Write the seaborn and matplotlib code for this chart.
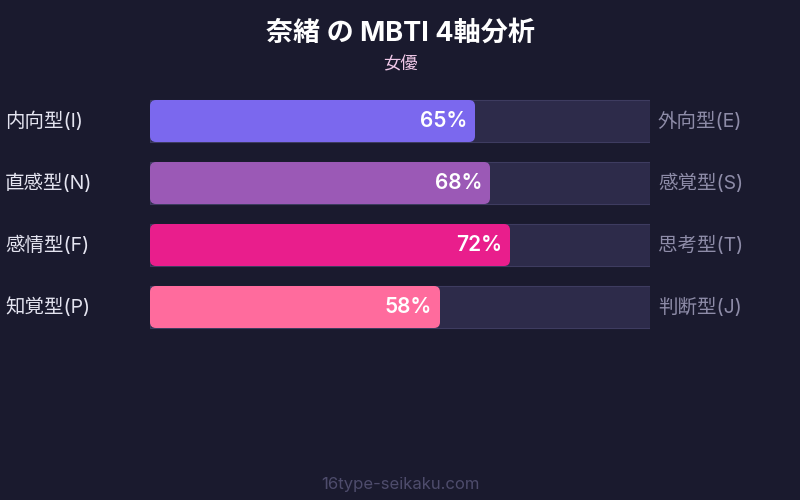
import pandas as pd
import matplotlib
matplotlib.use('Agg')
import matplotlib.pyplot as plt
import seaborn as sns
from matplotlib.patches import FancyBboxPatch

# chart data
left_labels = ['内向型(I)', '直感型(N)', '感情型(F)', '知覚型(P)']
right_labels = ['外向型(E)', '感覚型(S)', '思考型(T)', '判断型(J)']
values = [65, 68, 72, 58]
bar_colors = ['#7b68ee', '#9b59b6', '#e91e8c', '#ff6b9d']
title = '奈緒 の MBTI 4軸分析'
subtitle = '女優'
footer = '16type-seikaku.com'

bg = '#1a1a2e'
track = '#2d2b4a'

sns.set_theme(style='white')
plt.rcParams['font.family'] = ['Inter', 'Noto Sans CJK JP', 'DejaVu Sans']

df = pd.DataFrame({'axis': left_labels, 'value': values, 'full': [100] * len(values)})

fig = plt.figure(figsize=(8, 5), dpi=100, facecolor=bg)
# axes spans the bar track area (x 150-650 px, 4 rows of 62 px)
ax = fig.add_axes([150 / 800, 1 - 338 / 500, 500 / 800, 248 / 500])
ax.set_facecolor(bg)

bw = 42 / 62
sns.barplot(data=df, x='full', y='axis', color=track, width=bw, ax=ax, saturation=1,
            edgecolor='#3e3c60', linewidth=0.8, orient='h')
n_track = len(ax.patches)
sns.barplot(data=df, x='value', y='axis', hue='axis', palette=bar_colors, width=bw,
            ax=ax, legend=False, orient='h', linewidth=0, saturation=1)

# replace the value bars with rounded ones
rad = 1.2  # ~6 px in x units
aspect = (62 / 1) / (500 / 100)  # px per y unit / px per x unit
for p in list(ax.patches[n_track:]):
    x, y = p.get_x(), p.get_y()
    w, h = p.get_width(), p.get_height()
    fc = p.get_facecolor()
    p.remove()
    ax.add_patch(FancyBboxPatch((x, y), w, h,
                                boxstyle=f'round,pad=0,rounding_size={rad}',
                                mutation_aspect=1 / aspect, facecolor=fc,
                                edgecolor='none', zorder=3))
    ax.text(x + w - 1.6, y + h / 2, f'{int(round(w))}%', ha='right', va='center',
            color='white', fontsize=15, fontweight='semibold', zorder=4)

ax.set_xlim(0, 100)
ax.set_ylim(3.5, -0.5)
ax.set_xlabel('')
ax.set_ylabel('')
ax.set_xticks([])
ax.set_yticks([])
sns.despine(ax=ax, left=True, bottom=True)

for i, (l, r) in enumerate(zip(left_labels, right_labels)):
    ax.text(-29, i, l, ha='left', va='center', color='#e4e4f0', fontsize=14)
    ax.text(101.6, i, r, ha='left', va='center', color='#8e8ca8', fontsize=14)

fig.text(0.5, 1 - 34 / 500, title, ha='center', va='center', color='white',
         fontsize=19.5, fontweight='bold')
fig.text(0.5, 1 - 65 / 500, subtitle, ha='center', va='center', color='#f0c8e8',
         fontsize=12.5)
fig.text(0.5, 1 - 484 / 500, footer, ha='center', va='center', color='#4e4c6c',
         fontsize=12)

fig.savefig('out.png', dpi=100, facecolor=bg)
